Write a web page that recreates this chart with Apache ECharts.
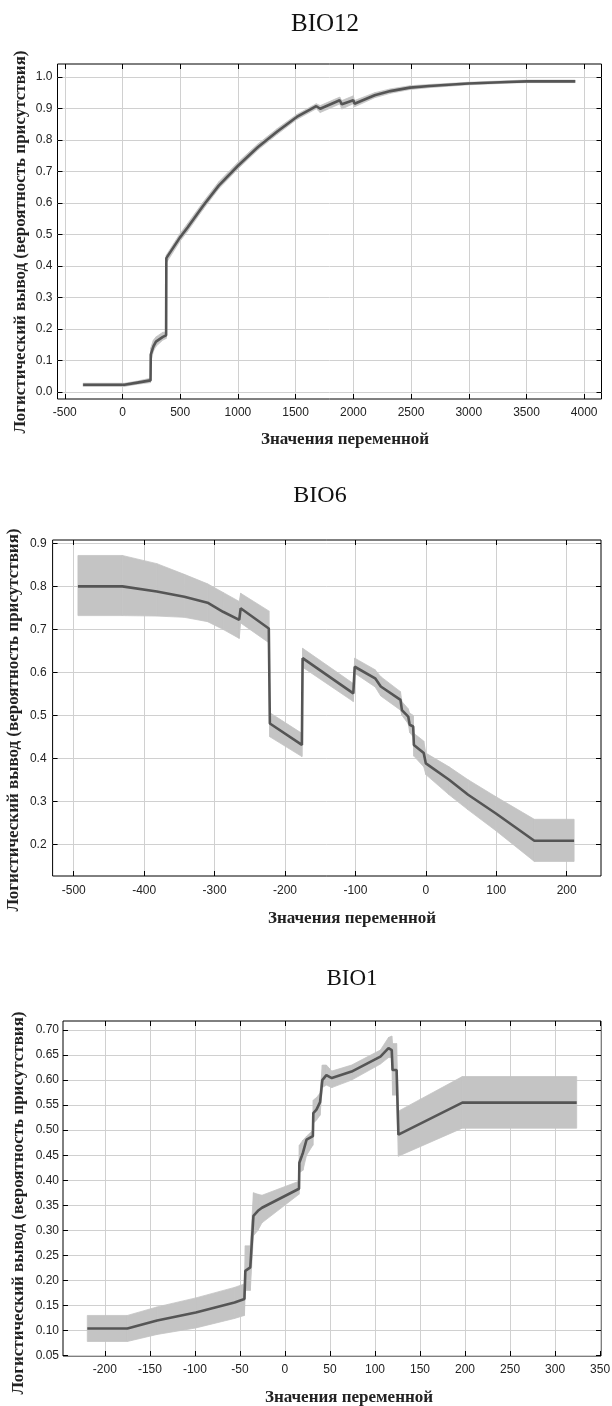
<!DOCTYPE html>
<html>
<head>
<meta charset="utf-8">
<title>BIO</title>
<script src="https://cdn.jsdelivr.net/npm/echarts@6/dist/echarts.min.js"></script>
<style>
	html, body { margin: 0; padding: 0; background: #fff; }
	#main { width: 612px; height: 1406px; }
</style>
</head>
<body>
<div id="main"></div>
<script>
/*BIO12*/
var bio12X = [-341, 17, 130, 243, 245, 268, 290, 350, 378, 380, 497, 564, 699, 834, 1003, 1172, 1341, 1510, 1679, 1713, 1882, 1900, 2000, 2010, 2185, 2321, 2490, 2658, 2996, 3334, 3503, 3922];
var bio12Y = [0.023, 0.023, 0.030, 0.037, 0.119, 0.145, 0.160, 0.175, 0.180, 0.425, 0.490, 0.522, 0.591, 0.655, 0.719, 0.777, 0.827, 0.873, 0.907, 0.899, 0.926, 0.913, 0.926, 0.915, 0.942, 0.955, 0.966, 0.971, 0.979, 0.984, 0.986, 0.986];
var bio12Low = [0.018, 0.018, 0.025, 0.030, 0.095, 0.130, 0.145, 0.165, 0.170, 0.410, 0.478, 0.510, 0.580, 0.645, 0.709, 0.768, 0.818, 0.865, 0.899, 0.887, 0.914, 0.898, 0.915, 0.905, 0.934, 0.948, 0.960, 0.966, 0.975, 0.980, 0.982, 0.982];
var bio12High = [0.028, 0.028, 0.035, 0.044, 0.140, 0.165, 0.175, 0.190, 0.190, 0.435, 0.502, 0.535, 0.603, 0.667, 0.730, 0.787, 0.836, 0.881, 0.915, 0.909, 0.936, 0.925, 0.940, 0.925, 0.950, 0.962, 0.972, 0.976, 0.983, 0.988, 0.990, 0.990];
var bio12XTicks = [-500, 0, 500, 1000, 1500, 2000, 2500, 3000, 3500, 4000];
var bio12YTicks = [0.0, 0.1, 0.2, 0.3, 0.4, 0.5, 0.6, 0.7, 0.8, 0.9, 1.0];

/*BIO6*/
var bio6X = [-494, -431, -382, -343, -310, -288, -265, -263, -223, -221.5, -176, -175, -103, -101, -72, -64, -36, -34, -25, -23, -18, -17, -3, 0, 33, 60, 99, 154, 210.5];
var bio6Y = [0.800, 0.800, 0.788, 0.776, 0.762, 0.741, 0.722, 0.749, 0.702, 0.481, 0.431, 0.633, 0.551, 0.613, 0.586, 0.567, 0.536, 0.512, 0.497, 0.478, 0.474, 0.431, 0.412, 0.388, 0.350, 0.315, 0.272, 0.208, 0.208];
var bio6Low = [0.732, 0.732, 0.731, 0.728, 0.718, 0.700, 0.679, 0.715, 0.669, 0.450, 0.404, 0.612, 0.532, 0.598, 0.566, 0.545, 0.512, 0.500, 0.480, 0.460, 0.450, 0.405, 0.380, 0.362, 0.315, 0.280, 0.232, 0.160, 0.160];
var bio6High = [0.872, 0.872, 0.853, 0.828, 0.806, 0.786, 0.765, 0.784, 0.743, 0.506, 0.458, 0.656, 0.574, 0.633, 0.606, 0.590, 0.555, 0.532, 0.515, 0.505, 0.500, 0.458, 0.440, 0.412, 0.380, 0.350, 0.311, 0.258, 0.258];
var bio6XTicks = [-500, -400, -300, -200, -100, 0, 100, 200];
var bio6YTicks = [0.2, 0.3, 0.4, 0.5, 0.6, 0.7, 0.8, 0.9];

/*BIO1*/
var bio1X = [-219.5, -175, -142, -99, -56, -45, -44, -38.5, -35, -30, -25.5, 15.6, 16, 20, 24, 31, 31.5, 35, 39, 41.5, 46, 52, 74, 106, 115, 118.6, 119.5, 124, 126, 197, 324];
var bio1Y = [0.104, 0.104, 0.120, 0.136, 0.156, 0.163, 0.219, 0.226, 0.329, 0.339, 0.345, 0.383, 0.435, 0.455, 0.481, 0.488, 0.534, 0.541, 0.556, 0.600, 0.610, 0.604, 0.617, 0.647, 0.664, 0.660, 0.620, 0.620, 0.491, 0.555, 0.555];
var bio1Low = [0.078, 0.078, 0.092, 0.105, 0.124, 0.130, 0.180, 0.180, 0.289, 0.300, 0.315, 0.372, 0.415, 0.420, 0.450, 0.470, 0.514, 0.520, 0.530, 0.585, 0.590, 0.585, 0.600, 0.632, 0.645, 0.645, 0.570, 0.570, 0.448, 0.504, 0.504];
var bio1High = [0.130, 0.130, 0.147, 0.165, 0.186, 0.193, 0.269, 0.269, 0.375, 0.372, 0.370, 0.398, 0.470, 0.480, 0.488, 0.500, 0.560, 0.565, 0.574, 0.630, 0.630, 0.618, 0.630, 0.660, 0.685, 0.688, 0.673, 0.673, 0.538, 0.607, 0.607];
var bio1XTicks = [-200, -150, -100, -50, 0, 50, 100, 150, 200, 250, 300, 350];
var bio1YTicks = [0.05, 0.10, 0.15, 0.20, 0.25, 0.30, 0.35, 0.40, 0.45, 0.50, 0.55, 0.60, 0.65, 0.70];

var yName = "Логистический вывод (вероятность присутствия)";
var xName = "Значения переменной";

var labelFont = "'Liberation Sans', Arial, sans-serif";
var serifFont = "'Liberation Serif', 'Times New Roman', serif";
var lineColor = "#555555";
var bandColor = "#c4c4c4";

var grids = [];
var xAxes = [];
var yAxes = [];
var series = [];
var graphics = [];

/*把两个数组合成点*/
function toPairs(xs, ys) {
	var ret = [];
	for(var i = 0; i < xs.length; i++) {
		ret.push([xs[i], ys[i]]);
	}
	return ret;
}

/*置信带分段*/
function toBand(xs, lo, hi) {
	var ret = [];
	for(var i = 0; i < xs.length - 1; i++) {
		ret.push([xs[i], lo[i], hi[i], xs[i + 1], lo[i + 1], hi[i + 1]]);
	}
	return ret;
}

function renderBand(params, api) {
	var p1 = api.coord([api.value(0), api.value(1)]);
	var p2 = api.coord([api.value(3), api.value(4)]);
	var p3 = api.coord([api.value(3), api.value(5)]);
	var p4 = api.coord([api.value(0), api.value(2)]);
	return {
		type: 'polygon',
		shape: { points: [p1, p2, p3, p4] },
		style: { fill: bandColor, stroke: bandColor, lineWidth: 0.8 }
	};
}

function addChart(c) {
	var gi = grids.length;
	grids.push({
		left: c.left,
		top: c.top,
		width: c.width,
		height: c.height,
		show: true,
		borderColor: '#000',
		borderWidth: 1,
		backgroundColor: '#fff',
		outerBoundsMode: 'none',
		containLabel: false
	});
	var tick = { show: true, inside: true, length: 5, lineStyle: { color: '#000', width: 1 } };
	var noLine = { show: false, onZero: false };
	var xFmt = function(v) { return String(v); };
	var yFmt = function(v) { return v.toFixed(c.yDigits); };
	/*下方和左边的主轴*/
	xAxes.push({
		type: 'value', gridIndex: gi, position: 'bottom', min: c.xMin, max: c.xMax,
		axisLine: noLine,
		axisTick: Object.assign({ customValues: c.xTicks }, tick),
		axisLabel: { customValues: c.xTicks, formatter: xFmt, margin: c.xMargin, fontSize: 12, color: '#222', fontFamily: labelFont },
		splitLine: { show: true, lineStyle: { color: '#d0d0d0', width: 1 } }
	});
	/*上方只画刻度*/
	xAxes.push({
		type: 'value', gridIndex: gi, position: 'top', min: c.xMin, max: c.xMax,
		axisLine: noLine,
		axisTick: Object.assign({ customValues: c.xTicks }, tick),
		axisLabel: { show: false },
		splitLine: { show: false }
	});
	yAxes.push({
		type: 'value', gridIndex: gi, position: 'left', min: c.yMin, max: c.yMax,
		axisLine: noLine,
		axisTick: Object.assign({ customValues: c.yTicks }, tick),
		axisLabel: { customValues: c.yTicks, formatter: yFmt, margin: c.yMargin, fontSize: 12, color: '#222', fontFamily: labelFont },
		splitLine: { show: true, lineStyle: { color: '#d0d0d0', width: 1 } }
	});
	yAxes.push({
		type: 'value', gridIndex: gi, position: 'right', min: c.yMin, max: c.yMax,
		axisLine: noLine,
		axisTick: Object.assign({ customValues: c.yTicks }, tick),
		axisLabel: { show: false },
		splitLine: { show: false }
	});
	series.push({
		type: 'custom',
		xAxisIndex: gi * 2,
		yAxisIndex: gi * 2,
		renderItem: renderBand,
		encode: { x: [0, 3], y: [1, 2, 4, 5] },
		data: toBand(c.xs, c.lo, c.hi),
		silent: true,
		z: 2
	});
	series.push({
		type: 'line',
		xAxisIndex: gi * 2,
		yAxisIndex: gi * 2,
		data: toPairs(c.xs, c.ys),
		showSymbol: false,
		lineStyle: { color: lineColor, width: 2.6 },
		itemStyle: { color: lineColor },
		animation: false,
		silent: true,
		z: 3
	});
	/*标题和轴名*/
	graphics.push({
		type: 'text', x: c.titleX, y: c.titleY,
		style: { text: c.title, font: 'normal ' + c.titleSize + 'px ' + serifFont, fill: '#111', align: 'center', verticalAlign: 'middle' }
	});
	graphics.push({
		type: 'text', x: c.xNameX, y: c.xNameY,
		style: { text: xName, font: 'bold 17px ' + serifFont, fill: '#222', align: 'center', verticalAlign: 'middle' }
	});
	graphics.push({
		type: 'text', x: c.yNameX, y: c.yNameY, rotation: Math.PI / 2,
		style: { text: yName, font: 'bold 17px ' + serifFont, fill: '#222', align: 'center', verticalAlign: 'middle' }
	});
}

addChart({
	title: 'BIO12', titleX: 325, titleY: 24, titleSize: 25,
	left: 57.5, top: 64, width: 544, height: 335,
	xMin: -563, xMax: 4150, xTicks: bio12XTicks, xMargin: 8,
	yMin: -0.022, yMax: 1.041, yTicks: bio12YTicks, yDigits: 1, yMargin: 5,
	xs: bio12X, ys: bio12Y, lo: bio12Low, hi: bio12High,
	xNameX: 345, xNameY: 440, yNameX: 21, yNameY: 242
});
addChart({
	title: 'BIO6', titleX: 320, titleY: 496, titleSize: 24,
	left: 52.6, top: 540, width: 548.4, height: 336,
	xMin: -530, xMax: 248.7, xTicks: bio6XTicks, xMargin: 9,
	yMin: 0.126, yMax: 0.908, yTicks: bio6YTicks, yDigits: 1, yMargin: 6,
	xs: bio6X, ys: bio6Y, lo: bio6Low, hi: bio6High,
	xNameX: 352, xNameY: 919, yNameX: 14, yNameY: 720
});
addChart({
	title: 'BIO1', titleX: 352, titleY: 979, titleSize: 23,
	left: 63, top: 1021, width: 538, height: 335,
	xMin: -246.5, xMax: 351, xTicks: bio1XTicks, xMargin: 8,
	yMin: 0.049, yMax: 0.718, yTicks: bio1YTicks, yDigits: 2, yMargin: 4,
	xs: bio1X, ys: bio1Y, lo: bio1Low, hi: bio1High,
	xNameX: 349, xNameY: 1398, yNameX: 19, yNameY: 1203
});

var chart = echarts.init(document.getElementById('main'), null, { renderer: 'canvas' });
chart.setOption({
	animation: false,
	backgroundColor: '#fff',
	grid: grids,
	xAxis: xAxes,
	yAxis: yAxes,
	series: series,
	graphic: graphics
});
</script>
</body>
</html>
